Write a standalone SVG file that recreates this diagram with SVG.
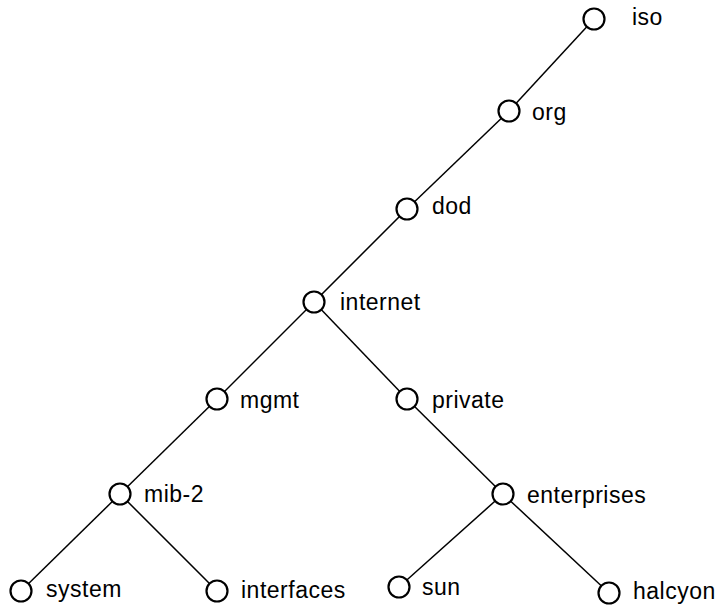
<svg xmlns="http://www.w3.org/2000/svg" width="718" height="608" viewBox="0 0 718 608">
<style>
.n circle{fill:#fff;stroke:#000;stroke-width:2.2}
.n text{font-family:"Liberation Sans",Arial,sans-serif;font-size:23px;letter-spacing:0.5px;fill:#000}
#edges line{stroke:#000;stroke-width:1.5}
</style>
<rect width="718" height="608" fill="#fff"/>
<g id="edges">
<line x1="594" y1="19" x2="509" y2="111"/>
<line x1="509" y1="111" x2="407" y2="209"/>
<line x1="407" y1="209" x2="314" y2="302"/>
<line x1="314" y1="302" x2="217" y2="399"/>
<line x1="314" y1="302" x2="407" y2="399"/>
<line x1="217" y1="399" x2="120" y2="494"/>
<line x1="407" y1="399" x2="503" y2="494"/>
<line x1="120" y1="494" x2="21" y2="591"/>
<line x1="120" y1="494" x2="217" y2="591"/>
<line x1="503" y1="494" x2="399" y2="587"/>
<line x1="503" y1="494" x2="609" y2="593"/>
</g>
<g id="iso" class="n"><circle cx="594" cy="19" r="10.5"/><text x="632" y="25">iso</text></g>
<g id="org" class="n"><circle cx="509" cy="111" r="10.5"/><text x="532" y="120">org</text></g>
<g id="dod" class="n"><circle cx="407" cy="209" r="10.5"/><text x="432" y="214">dod</text></g>
<g id="internet" class="n"><circle cx="314" cy="302" r="10.5"/><text x="340" y="310">internet</text></g>
<g id="mgmt" class="n"><circle cx="217" cy="399" r="10.5"/><text x="240" y="408">mgmt</text></g>
<g id="private" class="n"><circle cx="407" cy="399" r="10.5"/><text x="432" y="408">private</text></g>
<g id="mib-2" class="n"><circle cx="120" cy="494" r="10.5"/><text x="144" y="502">mib-2</text></g>
<g id="enterprises" class="n"><circle cx="503" cy="494" r="10.5"/><text x="527" y="503">enterprises</text></g>
<g id="system" class="n"><circle cx="21" cy="591" r="10.5"/><text x="46" y="597">system</text></g>
<g id="interfaces" class="n"><circle cx="217" cy="591" r="10.5"/><text x="241" y="598">interfaces</text></g>
<g id="sun" class="n"><circle cx="399" cy="587" r="10.5"/><text x="422" y="595">sun</text></g>
<g id="halcyon" class="n"><circle cx="609" cy="593" r="10.5"/><text x="633" y="599">halcyon</text></g>
</svg>
